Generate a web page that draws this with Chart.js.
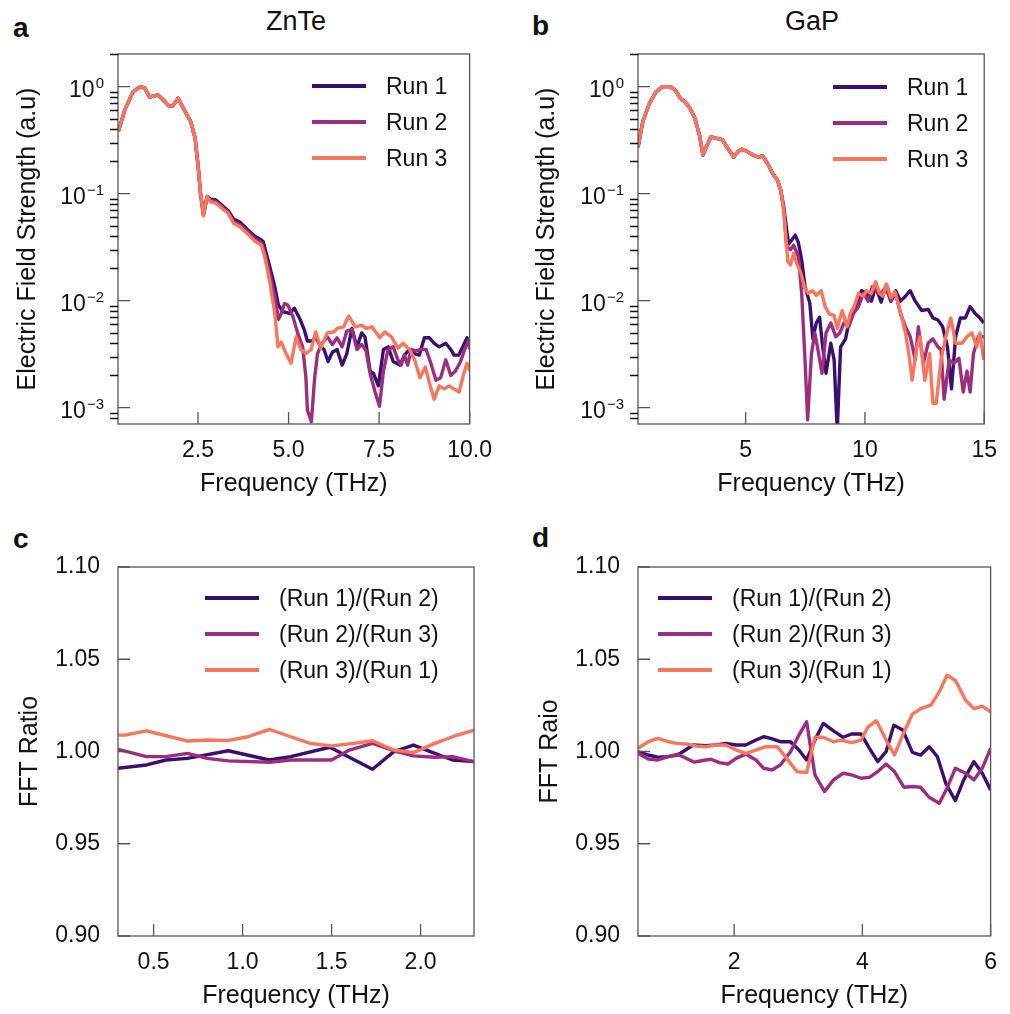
<!DOCTYPE html>
<html>
<head>
<meta charset="utf-8">
<script src="https://cdn.jsdelivr.net/npm/chart.js@4.4.0/dist/chart.umd.min.js"></script>
<style>
  body { margin: 0; background: #fff; width: 1010px; height: 1014px; position: relative; overflow: hidden;
         font-family: "Liberation Sans", Arial, Helvetica, sans-serif; color: #111; }
  canvas { position: absolute; }
  .letter { position: absolute; font-weight: bold; font-size: 28px; line-height: 28px; }
  .title { position: absolute; font-size: 27px; line-height: 27px; width: 200px; text-align: center; }
</style>
</head>
<body>
<div class="letter" style="left:13px;top:14px">a</div>
<div class="letter" style="left:532px;top:12px">b</div>
<div class="letter" style="left:13px;top:525px">c</div>
<div class="letter" style="left:532px;top:524px">d</div>
<div class="title" style="left:196px;top:8px">ZnTe</div>
<div class="title" style="left:712px;top:8px">GaP</div>

<canvas id="cA" width="505" height="507" style="left:0;top:0"></canvas>
<canvas id="cB" width="505" height="507" style="left:505px;top:0"></canvas>
<canvas id="cC" width="505" height="507" style="left:0;top:507px"></canvas>
<canvas id="cD" width="505" height="507" style="left:505px;top:507px"></canvas>

<script>
// tick values
const ticksA = [2.5, 5.0, 7.5, 10.0];
const ticksB = [5, 10, 15];
const ticksC = [0.5, 1.0, 1.5, 2.0];
const ticksD = [2, 4, 6];
const logTicks = [0.001, 0.01, 0.1, 1];
const ratioTicks = [0.90, 0.95, 1.00, 1.05, 1.10];

const runLabels = ['Run 1', 'Run 2', 'Run 3'];
const ratioLabels = ['(Run 1)/(Run 2)', '(Run 2)/(Run 3)', '(Run 3)/(Run 1)'];
const runColors = ['#3b0f70', '#9c2e7f', '#f8765c'];

// ZnTe spectra [THz, a.u.]
const znteRun1 = [[0.30,0.38],[0.48,0.61],[0.71,0.90],[0.91,1.0],[1.03,0.97],[1.16,0.80],[1.39,0.84],[1.53,0.76],[1.69,0.66],[1.80,0.66],[1.95,0.78],[2.09,0.63],[2.30,0.47],[2.42,0.33],[2.51,0.17],[2.57,0.10],[2.65,0.064],[2.75,0.094],[2.84,0.089],[2.98,0.088],[3.16,0.078],[3.34,0.069],[3.48,0.058],[3.66,0.054],[3.84,0.047],[4.07,0.040],[4.25,0.037],[4.30,0.0356],[4.48,0.0208],[4.62,0.0135],[4.72,0.0091],[4.84,0.0079],[5.03,0.0076],[5.16,0.0085],[5.30,0.0069],[5.43,0.0054],[5.52,0.0042],[5.66,0.0042],[5.75,0.0046],[5.89,0.0037],[5.98,0.0035],[6.09,0.0027],[6.21,0.0033],[6.34,0.0035],[6.48,0.0025],[6.61,0.0032],[6.75,0.0055],[6.89,0.0037],[7.02,0.0050],[7.11,0.0046],[7.25,0.0022],[7.34,0.0021],[7.48,0.0016],[7.62,0.0035],[7.75,0.0037],[7.89,0.0027],[8.07,0.0025],[8.20,0.0031],[8.34,0.0035],[8.48,0.0032],[8.61,0.0031],[8.75,0.0045],[8.89,0.0045],[9.02,0.0040],[9.16,0.0037],[9.34,0.0040],[9.48,0.0035],[9.57,0.0031],[9.70,0.0031],[9.84,0.0039],[9.93,0.0045],[10.0,0.0037]];
const znteRun2 = [[0.30,0.38],[0.48,0.61],[0.71,0.90],[0.91,1.0],[1.03,0.97],[1.16,0.80],[1.39,0.84],[1.53,0.76],[1.69,0.66],[1.80,0.66],[1.95,0.78],[2.09,0.63],[2.30,0.47],[2.42,0.33],[2.51,0.17],[2.57,0.10],[2.65,0.063],[2.75,0.094],[2.84,0.086],[2.98,0.085],[3.16,0.075],[3.34,0.067],[3.48,0.055],[3.66,0.051],[3.84,0.045],[4.07,0.038],[4.25,0.035],[4.34,0.028],[4.48,0.018],[4.62,0.011],[4.72,0.0067],[4.80,0.0076],[4.89,0.0094],[4.98,0.0091],[5.12,0.0071],[5.25,0.0050],[5.39,0.0037],[5.48,0.0019],[5.52,0.00095],[5.63,0.00074],[5.72,0.0019],[5.80,0.0032],[5.93,0.0040],[6.07,0.0046],[6.21,0.0039],[6.34,0.0045],[6.48,0.0037],[6.61,0.0052],[6.75,0.0054],[6.89,0.0035],[7.02,0.0039],[7.14,0.0034],[7.25,0.0021],[7.39,0.0014],[7.51,0.00103],[7.62,0.0022],[7.75,0.0035],[7.89,0.0037],[8.02,0.0028],[8.11,0.0025],[8.20,0.0031],[8.29,0.0025],[8.38,0.0035],[8.52,0.0034],[8.66,0.0035],[8.80,0.0035],[8.93,0.0026],[9.07,0.0018],[9.20,0.0019],[9.34,0.0028],[9.48,0.0020],[9.61,0.0022],[9.75,0.0027],[9.89,0.0037],[9.98,0.0043],[10.0,0.0035]];
const znteRun3 = [[0.30,0.38],[0.48,0.61],[0.71,0.90],[0.91,1.0],[1.03,0.97],[1.16,0.80],[1.39,0.84],[1.53,0.76],[1.69,0.66],[1.80,0.66],[1.95,0.78],[2.09,0.63],[2.30,0.47],[2.42,0.33],[2.51,0.17],[2.57,0.10],[2.65,0.062],[2.75,0.094],[2.84,0.084],[2.98,0.082],[3.16,0.073],[3.34,0.065],[3.48,0.053],[3.66,0.049],[3.84,0.043],[4.07,0.036],[4.25,0.033],[4.34,0.026],[4.48,0.015],[4.62,0.0076],[4.71,0.0037],[4.80,0.0041],[4.93,0.0032],[5.07,0.0026],[5.21,0.0046],[5.34,0.0035],[5.48,0.0032],[5.62,0.0035],[5.75,0.0051],[5.89,0.0036],[6.07,0.0050],[6.25,0.0051],[6.34,0.0055],[6.52,0.0057],[6.66,0.0072],[6.84,0.0057],[7.02,0.0059],[7.16,0.0055],[7.30,0.0057],[7.52,0.0045],[7.66,0.0051],[7.84,0.0046],[8.02,0.0036],[8.16,0.0040],[8.34,0.0035],[8.48,0.0028],[8.63,0.0019],[8.78,0.0024],[8.89,0.0017],[9.02,0.0012],[9.16,0.0016],[9.30,0.0015],[9.43,0.0016],[9.57,0.0015],[9.71,0.0014],[9.84,0.0021],[9.93,0.0026],[10.0,0.0022]];

// GaP spectra [THz, a.u.]
const gapRun1 = [[0.49,0.27],[0.69,0.47],[0.97,0.70],[1.24,0.89],[1.51,1.0],[1.85,1.0],[2.05,0.93],[2.26,0.78],[2.46,0.72],[2.67,0.63],[2.87,0.51],[3.07,0.35],[3.21,0.23],[3.34,0.27],[3.55,0.34],[3.75,0.33],[4.02,0.32],[4.23,0.27],[4.50,0.22],[4.70,0.25],[4.84,0.26],[5.04,0.25],[5.31,0.23],[5.52,0.22],[5.72,0.225],[5.93,0.19],[6.13,0.155],[6.33,0.134],[6.47,0.108],[6.60,0.075],[6.70,0.050],[6.80,0.034],[6.94,0.037],[7.08,0.041],[7.21,0.035],[7.35,0.024],[7.49,0.0135],[7.69,0.0095],[7.82,0.0044],[7.96,0.0062],[8.10,0.0070],[8.23,0.0037],[8.37,0.0021],[8.57,0.0040],[8.71,0.0028],[8.84,0.0006],[8.98,0.0037],[9.19,0.0044],[9.32,0.0062],[9.46,0.0076],[9.66,0.0095],[9.86,0.0124],[10.07,0.0117],[10.27,0.0099],[10.45,0.0135],[10.68,0.0097],[10.88,0.0135],[11.09,0.0099],[11.29,0.0124],[11.49,0.0099],[11.70,0.011],[11.90,0.0124],[12.11,0.0099],[12.38,0.0081],[12.65,0.0083],[12.85,0.0069],[13.06,0.0066],[13.26,0.0057],[13.46,0.0037],[13.63,0.0015],[13.80,0.0046],[14.00,0.0069],[14.21,0.0069],[14.41,0.0088],[14.62,0.0076],[14.82,0.0069],[14.98,0.0062]];
const gapRun2 = [[0.49,0.27],[0.69,0.47],[0.97,0.70],[1.24,0.89],[1.51,1.0],[1.85,1.0],[2.05,0.93],[2.26,0.78],[2.46,0.72],[2.67,0.63],[2.87,0.51],[3.07,0.35],[3.21,0.23],[3.34,0.27],[3.55,0.34],[3.75,0.33],[4.02,0.32],[4.23,0.27],[4.50,0.22],[4.70,0.25],[4.84,0.26],[5.04,0.25],[5.31,0.23],[5.52,0.22],[5.72,0.225],[5.93,0.19],[6.13,0.155],[6.33,0.134],[6.47,0.108],[6.60,0.070],[6.72,0.032],[6.88,0.030],[7.01,0.033],[7.21,0.026],[7.35,0.0117],[7.49,0.0028],[7.60,0.00077],[7.76,0.0032],[7.90,0.0050],[8.03,0.0035],[8.20,0.0021],[8.37,0.0050],[8.57,0.0062],[8.78,0.0046],[8.95,0.0050],[9.12,0.0062],[9.32,0.0057],[9.52,0.0076],[9.73,0.0088],[9.93,0.0117],[10.14,0.0099],[10.31,0.0135],[10.48,0.0124],[10.68,0.0117],[10.88,0.0135],[11.09,0.0099],[11.29,0.0117],[11.49,0.0076],[11.70,0.0057],[11.90,0.0046],[12.11,0.0028],[12.24,0.0057],[12.45,0.0026],[12.65,0.0040],[12.85,0.0044],[13.06,0.0037],[13.19,0.0035],[13.32,0.0012],[13.53,0.0028],[13.73,0.0026],[13.94,0.0029],[14.12,0.0014],[14.28,0.0022],[14.41,0.0014],[14.55,0.0032],[14.75,0.0046],[14.98,0.0046]];
const gapRun3 = [[0.49,0.27],[0.69,0.47],[0.97,0.70],[1.24,0.89],[1.51,1.0],[1.85,1.0],[2.05,0.93],[2.26,0.78],[2.46,0.72],[2.67,0.63],[2.87,0.51],[3.07,0.35],[3.21,0.23],[3.34,0.27],[3.55,0.34],[3.75,0.33],[4.02,0.32],[4.23,0.27],[4.50,0.22],[4.70,0.25],[4.84,0.26],[5.04,0.25],[5.31,0.23],[5.52,0.22],[5.72,0.225],[5.93,0.19],[6.13,0.155],[6.33,0.134],[6.47,0.108],[6.60,0.070],[6.67,0.043],[6.77,0.023],[6.88,0.0216],[7.01,0.0277],[7.15,0.022],[7.32,0.018],[7.49,0.013],[7.62,0.0117],[7.80,0.0124],[7.96,0.0112],[8.17,0.0124],[8.33,0.0088],[8.51,0.0075],[8.71,0.0073],[8.84,0.0055],[9.05,0.0081],[9.25,0.0057],[9.39,0.0076],[9.55,0.0088],[9.73,0.0117],[9.93,0.011],[10.07,0.0124],[10.27,0.0117],[10.45,0.0150],[10.61,0.0117],[10.75,0.011],[10.91,0.0143],[11.09,0.0107],[11.26,0.0121],[11.43,0.0088],[11.57,0.0066],[11.70,0.0050],[11.84,0.0032],[11.98,0.0018],[12.17,0.0037],[12.31,0.0046],[12.51,0.0018],[12.71,0.0032],[12.85,0.0011],[12.99,0.0011],[13.19,0.0028],[13.39,0.0046],[13.60,0.0069],[13.80,0.0040],[14.07,0.0040],[14.28,0.0046],[14.48,0.0050],[14.69,0.0037],[14.82,0.0050],[14.98,0.0028]];

// FFT ratios, ZnTe [THz, ratio]
const znteRatio12 = [[0.30,0.9909],[0.46,0.9927],[0.57,0.9954],[0.69,0.9963],[0.92,1.0004],[1.15,0.9954],[1.27,0.9972],[1.49,1.0023],[1.73,0.9904],[1.85,0.9999],[1.96,1.0035],[2.08,0.9990],[2.18,0.9954],[2.30,0.9945]];
const znteRatio23 = [[0.30,1.0012],[0.46,0.9972],[0.57,0.9972],[0.69,0.9990],[0.80,0.9963],[0.92,0.9949],[1.15,0.9942],[1.27,0.9954],[1.50,0.9954],[1.60,1.0008],[1.73,1.0044],[1.85,1.0004],[1.96,0.9976],[2.08,0.9969],[2.18,0.9972],[2.30,0.9945]];
const znteRatio31 = [[0.30,1.0089],[0.34,1.0089],[0.46,1.0112],[0.69,1.0057],[0.80,1.0062],[0.92,1.0060],[1.03,1.0080],[1.15,1.0120],[1.27,1.0080],[1.38,1.0044],[1.50,1.0030],[1.60,1.0041],[1.73,1.0058],[1.85,1.0008],[1.96,0.9994],[2.08,1.0044],[2.18,1.0080],[2.30,1.0116]];

// FFT ratios, GaP [THz, ratio]
const gapRatio12 = [[0.50,0.9999],[0.66,0.9981],[0.81,0.9969],[0.97,0.9972],[1.12,0.9981],[1.36,1.0035],[1.56,1.0032],[1.72,1.0035],[1.87,1.0044],[2.03,1.0035],[2.18,1.0035],[2.34,1.0062],[2.46,1.0080],[2.57,1.0071],[2.72,1.0053],[2.88,1.0053],[3.01,1.0008],[3.13,0.9954],[3.26,1.0062],[3.39,1.0152],[3.55,1.0112],[3.70,1.0077],[3.83,1.0095],[3.98,1.0095],[4.11,1.0017],[4.24,0.9945],[4.37,0.9999],[4.49,1.0143],[4.63,1.0116],[4.78,0.9995],[4.91,0.9981],[5.04,1.0026],[5.17,0.9972],[5.30,0.9828],[5.45,0.9734],[5.58,0.9846],[5.74,0.9945],[5.87,0.9882],[6.00,0.9792]];
const gapRatio23 = [[0.50,0.9990],[0.66,0.9959],[0.81,0.9954],[0.97,0.9972],[1.12,0.9985],[1.25,0.9963],[1.38,0.9942],[1.51,0.9951],[1.64,0.9958],[1.77,0.9940],[1.90,0.9932],[2.03,0.9963],[2.18,0.9986],[2.34,0.9954],[2.46,0.9909],[2.59,0.9900],[2.72,0.9927],[2.88,0.9999],[3.01,1.0089],[3.13,1.0161],[3.26,0.9873],[3.41,0.9783],[3.55,0.9846],[3.70,0.9882],[3.83,0.9873],[3.98,0.9855],[4.11,0.9860],[4.24,0.9891],[4.37,0.9932],[4.50,0.9891],[4.65,0.9806],[4.78,0.9810],[4.91,0.9806],[5.04,0.9752],[5.20,0.9720],[5.32,0.9801],[5.45,0.9909],[5.61,0.9882],[5.74,0.9846],[5.87,0.9909],[6.00,1.0017]];
const gapRatio31 = [[0.50,1.0017],[0.66,1.0053],[0.81,1.0071],[0.97,1.0053],[1.10,1.0044],[1.25,1.0041],[1.41,1.0030],[1.56,1.0026],[1.72,1.0035],[1.87,1.0035],[2.03,1.0008],[2.18,0.9990],[2.34,1.0008],[2.49,1.0026],[2.67,1.0026],[2.80,0.9972],[2.98,0.9891],[3.13,0.9886],[3.26,1.0077],[3.39,1.0077],[3.55,1.0053],[3.67,1.0062],[3.83,1.0048],[3.98,1.0062],[4.09,1.0134],[4.22,1.0167],[4.37,1.0062],[4.50,0.9981],[4.63,1.0089],[4.78,1.0203],[4.91,1.0233],[5.07,1.0251],[5.20,1.0323],[5.32,1.0413],[5.45,1.0386],[5.61,1.0278],[5.74,1.0233],[5.87,1.0246],[6.00,1.0215]];

const FONT = '"Liberation Sans", Arial, Helvetica, sans-serif';
Chart.defaults.font.family = FONT;
Chart.defaults.color = '#111';

// box, inward ticks, log labels and the legend
const framePlugin = {
  id: 'frame',
  afterDatasetsDraw(chart, args, o) {
    const { ctx, chartArea: a } = chart;
    const xs = chart.scales.x, ys = chart.scales.y;
    ctx.save();
    ctx.strokeStyle = '#555';
    ctx.lineWidth = 1.3;
    ctx.strokeRect(a.left, a.top, a.right - a.left, a.bottom - a.top);
    ctx.beginPath();
    xs.ticks.forEach(t => {
      const p = xs.getPixelForValue(t.value);
      ctx.moveTo(p, a.bottom); ctx.lineTo(p, a.bottom - 12);
    });
    ys.ticks.forEach(t => {
      const p = ys.getPixelForValue(t.value);
      ctx.moveTo(a.left, p); ctx.lineTo(a.left + 12, p);
    });
    ctx.stroke();

    if (o.log) {
      // minor decade ticks, pointing out
      ctx.strokeStyle = '#111';
      ctx.lineWidth = 1.6;
      ctx.beginPath();
      [0.0001].concat(logTicks).forEach(d => {
        for (let m = 2; m <= 9; m++) {
          const v = m * d;
          if (v < ys.min || v > ys.max) continue;
          const p = Math.round(ys.getPixelForValue(v)) + 0.5;
          ctx.moveTo(a.left, p); ctx.lineTo(a.left - 8, p);
        }
      });
      ctx.stroke();
      // 10^n labels
      ctx.fillStyle = '#111';
      ctx.textBaseline = 'alphabetic';
      ctx.textAlign = 'left';
      ys.ticks.forEach(t => {
        const p = ys.getPixelForValue(t.value);
        const n = Math.round(Math.log10(t.value));
        const ex = n < 0 ? '\u2212' + (-n) : String(n);
        ctx.font = '15px ' + FONT;
        const we = ctx.measureText(ex).width;
        ctx.font = '23px ' + FONT;
        const wb = ctx.measureText('10').width;
        const right = a.left - 14;
        ctx.fillText('10', right - we - wb - 1, p + 10);
        ctx.font = '15px ' + FONT;
        ctx.fillText(ex, right - we, p + 1.5);
      });
    }

    // legend
    const L = o.legend;
    ctx.lineWidth = 4;
    ctx.font = '23px ' + FONT;
    ctx.textBaseline = 'middle';
    ctx.textAlign = 'left';
    chart.data.datasets.forEach((ds, i) => {
      const y = L.y + i * 36;
      ctx.strokeStyle = ds.borderColor;
      ctx.beginPath(); ctx.moveTo(L.x, y); ctx.lineTo(L.x + 54, y); ctx.stroke();
      ctx.fillStyle = '#111';
      ctx.fillText(ds.label, L.x + 74, y + 2);
    });
    ctx.restore();
  }
};

function buildChart(id, series, labels, c) {
  return new Chart(document.getElementById(id), {
    type: 'line',
    data: {
      datasets: series.map((s, i) => ({
        label: labels[i],
        data: s.map(p => ({ x: p[0], y: p[1] })),
        borderColor: runColors[i],
        borderWidth: 3.4,
        pointRadius: 0,
        tension: 0,
        fill: false,
        borderJoinStyle: 'round',
        order: 3 - i
      }))
    },
    options: {
      responsive: false,
      animation: false,
      devicePixelRatio: 1,
      layout: { padding: { left: 0, top: c.top, right: c.right, bottom: 0 } },
      plugins: {
        legend: { display: false },
        tooltip: { enabled: false },
        frame: { log: c.log, legend: c.legend }
      },
      scales: {
        x: {
          type: 'linear',
          min: c.xMin, max: c.xMax,
          afterBuildTicks: s => { s.ticks = c.xTicks.map(v => ({ value: v })); },
          afterFit: s => { s.height = c.xHeight; },
          grid: { display: false, drawTicks: false },
          border: { display: false },
          ticks: { font: { size: 23 }, color: '#111', padding: 13, maxRotation: 0, autoSkip: false,
                   callback: v => v.toFixed(c.xDec) },
          title: { display: true, text: 'Frequency (THz)', font: { size: 25 }, color: '#111',
                   padding: { top: 0, bottom: c.xTitlePad } }
        },
        y: {
          type: c.log ? 'logarithmic' : 'linear',
          min: c.yMin, max: c.yMax,
          afterBuildTicks: s => { s.ticks = c.yTicks.map(v => ({ value: v })); },
          afterFit: s => { s.width = c.yWidth; },
          grid: { display: false, drawTicks: false },
          border: { display: false },
          ticks: { display: !c.log, font: { size: 23 }, color: '#111', padding: 18,
                   callback: v => Number(v).toFixed(2) },
          title: { display: true, text: c.yTitle, font: { size: 25 }, color: '#111',
                   padding: { top: c.yTitlePad, bottom: 0 } }
        }
      }
    },
    plugins: [framePlugin]
  });
}

buildChart('cA', [znteRun1, znteRun2, znteRun3], runLabels, {
  top: 54, right: 30, xHeight: 83, yWidth: 118,
  xMin: 0.29, xMax: 10.0, xTicks: ticksA, xDec: 1, xTitlePad: 8,
  log: true, yMin: 0.000704, yMax: 2.02, yTicks: logTicks,
  yTitle: 'Electric Field Strength (a.u)', yTitlePad: 13.5,
  legend: { x: 312, y: 86 }
});

buildChart('cB', [gapRun1, gapRun2, gapRun3], runLabels, {
  top: 54, right: 16, xHeight: 83, yWidth: 133,
  xMin: 0.49, xMax: 15.0, xTicks: ticksB, xDec: 0, xTitlePad: 8,
  log: true, yMin: 0.000704, yMax: 2.02, yTicks: logTicks,
  yTitle: 'Electric Field Strength (a.u)', yTitlePad: 27,
  legend: { x: 328, y: 87 }
});

buildChart('cC', [znteRatio12, znteRatio23, znteRatio31], ratioLabels, {
  top: 60, right: 31, xHeight: 78, yWidth: 118,
  xMin: 0.3, xMax: 2.3, xTicks: ticksC, xDec: 1, xTitlePad: 3,
  log: false, yMin: 0.90, yMax: 1.10, yTicks: ratioTicks,
  yTitle: 'FFT Ratio', yTitlePad: 15,
  legend: { x: 205, y: 91 }
});

buildChart('cD', [gapRatio12, gapRatio23, gapRatio31], ratioLabels, {
  top: 60, right: 16, xHeight: 78, yWidth: 133,
  xMin: 0.5, xMax: 6.0, xTicks: ticksD, xDec: 0, xTitlePad: 3,
  log: false, yMin: 0.90, yMax: 1.10, yTicks: ratioTicks,
  yTitle: 'FFT Raio', yTitlePad: 30,
  legend: { x: 153, y: 91 }
});
</script>
</body>
</html>
